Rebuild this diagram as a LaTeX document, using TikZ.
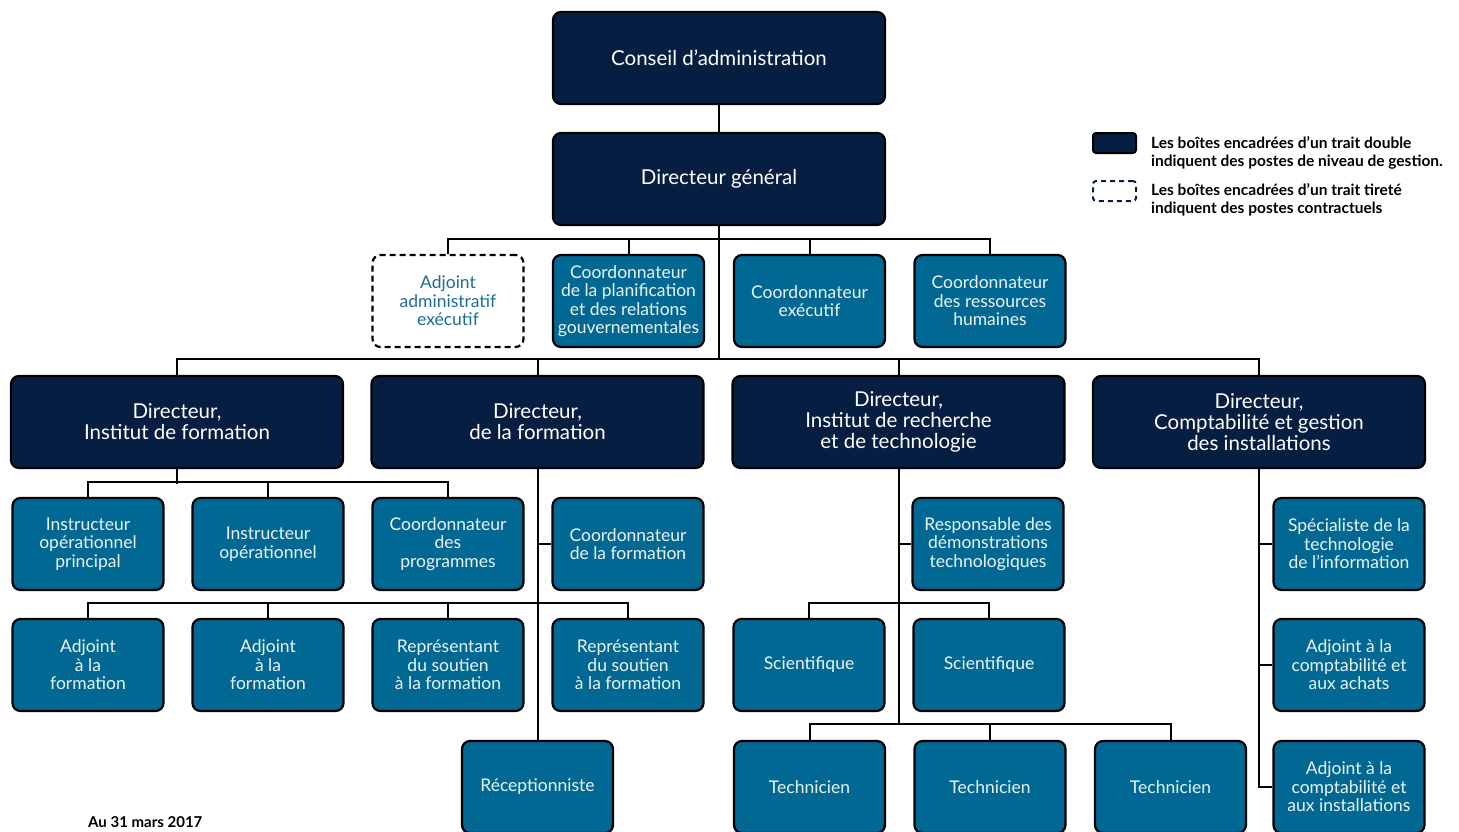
\documentclass[tikz,border=0pt]{standalone}
\usepackage{fontspec}
\setmainfont{Lato}
\definecolor{navy}{HTML}{061E42}
\definecolor{tealbox}{HTML}{006893}
\definecolor{tealtxt}{HTML}{1C6E98}
\begin{document}
\begin{tikzpicture}[x=1pt,y=-1pt,
  box/.style={draw=black, line width=2.2pt, rounded corners=8pt, align=center, inner sep=0pt},
  mgr/.style={box, fill=navy, text=white, minimum width=332pt, minimum height=92pt, font=\fontsize{20.5}{21}\selectfont},
  posbox/.style={box, fill=tealbox, text=white!92!tealbox, minimum width=151pt, minimum height=92pt, font=\fontsize{17.5}{18.5}\selectfont},
  contract/.style={box, fill=white, text=tealtxt, dashed, dash pattern=on 6pt off 4pt, minimum width=151pt, minimum height=92pt, font=\fontsize{17.5}{18.5}\selectfont},
  conn/.style={draw=black, line width=2pt},
  legtxt/.style={anchor=west, align=left, font=\bfseries\fontsize{15.5}{18.5}\selectfont, inner sep=0pt}
]
\useasboundingbox (0,0) rectangle (1459,831);
\fill[white] (0,0) rectangle (1459,831);

% top
\node[mgr] (conseil) at (719,58) {Conseil d’administration};
\node[mgr] (dg) at (719,179) {Directeur général};

% row 2
\node[contract] (adj) at (448,301) {Adjoint\\administratif\\exécutif};
\node[posbox] (cpl) at (628.5,301) {Coordonnateur\\de la planification\\et des relations\\gouvernementales};
\node[posbox] (cex) at (809.5,301) {Coordonnateur\\exécutif};
\node[posbox] (crh) at (990,301) {Coordonnateur\\des ressources\\humaines};

% directors
\node[mgr] (d1) at (177,422) {Directeur,\\Institut de formation};
\node[mgr] (d2) at (537.5,422) {Directeur,\\de la formation};
\node[mgr] (d3) at (898.5,422) {Directeur,\\Institut de recherche\\et de technologie};
\node[mgr] (d4) at (1259,422) {Directeur,\\Comptabilité et gestion\\des installations};

% director 1 children
\node[posbox] (i1) at (88,544) {Instructeur\\opérationnel\\principal};
\node[posbox] (i2) at (268,544) {Instructeur\\opérationnel};
\node[posbox] (cp) at (448,544) {Coordonnateur\\des\\programmes};

% director 2 children
\node[posbox] (cf) at (628,544) {Coordonnateur\\de la formation};
\node[posbox] (a1) at (88,665) {Adjoint\\à la\\formation};
\node[posbox] (a2) at (268,665) {Adjoint\\à la\\formation};
\node[posbox] (r1) at (448,665) {Représentant\\du soutien\\à la formation};
\node[posbox] (r2) at (628,665) {Représentant\\du soutien\\à la formation};
\node[posbox] (rec) at (537.5,787) {Réceptionniste};

% director 3 children
\node[posbox] (resp) at (988,544) {Responsable des\\démonstrations\\technologiques};
\node[posbox] (s1) at (809,665) {Scientifique};
\node[posbox] (s2) at (989,665) {Scientifique};
\node[posbox] (t1) at (809.5,787) {Technicien};
\node[posbox] (t2) at (990,787) {Technicien};
\node[posbox] (t3) at (1170.5,787) {Technicien};

% director 4 children
\node[posbox] (sp1) at (1349,544) {Spécialiste de la\\technologie\\de l’information};
\node[posbox] (sp2) at (1349,665) {Adjoint à la\\comptabilité et\\aux achats};
\node[posbox] (sp3) at (1349,787) {Adjoint à la\\comptabilité et\\aux installations};

% helper coordinates
\coordinate (h360) at (0,360);
\coordinate (h725) at (0,725);

% connectors
\draw[conn] (conseil) -- (dg);
\draw[conn] (dg.south) -- (dg.south |- h360);
\draw[conn] (adj.north) -- ++(0,-15) -| (crh.north);
\draw[conn] (cpl.north) -- ++(0,-15);
\draw[conn] (cex.north) -- ++(0,-15);
\draw[conn] (d1.north) -- ++(0,-16) -| (d4.north);
\draw[conn] (d2.north) -- ++(0,-16);
\draw[conn] (d3.north) -- ++(0,-16);

\draw[conn] (d1.south) -- ++(0,15);
\draw[conn] (i1.north) -- ++(0,-15) -| (cp.north);
\draw[conn] (i2.north) -- ++(0,-15);

\draw[conn] (d2.south) -- (rec.north);
\draw[conn] (cf.west) -- (cf.west -| d2.south);
\draw[conn] (a1.north) -- ++(0,-15) -| (r2.north);
\draw[conn] (a2.north) -- ++(0,-15);
\draw[conn] (r1.north) -- ++(0,-15);

\draw[conn] (d3.south) -- (d3.south |- h725);
\draw[conn] (resp.west) -- (resp.west -| d3.south);
\draw[conn] (s1.north) -- ++(0,-15) -| (s2.north);
\draw[conn] (t1.north) -- ++(0,-16) -| (t3.north);
\draw[conn] (t2.north) -- ++(0,-16);

\draw[conn] (d4.south) |- (sp3.west);
\draw[conn] (sp1.west) -- (sp1.west -| d4.south);
\draw[conn] (sp2.west) -- (sp2.west -| d4.south);

% legend
\node[draw=black, line width=2pt, fill=navy, rounded corners=3pt, minimum width=43pt, minimum height=20pt, inner sep=0pt] (legm) at (1114.5,143) {};
\node[draw=navy, line width=2pt, dashed, dash pattern=on 5pt off 4pt, rounded corners=3pt, minimum width=43pt, minimum height=20pt, inner sep=0pt] (legc) at (1114.5,191) {};
\node[legtxt] (lt1) at (1151,153) {Les boîtes encadrées d’un trait double\\indiquent des postes de niveau de gestion.};
\node[legtxt] (lt2) at (1151,200) {Les boîtes encadrées d’un trait tireté\\indiquent des postes contractuels};

% date
\node[anchor=west, inner sep=0pt, font=\bfseries\fontsize{15}{16}\selectfont] (date) at (88,822) {Au 31 mars 2017};
\end{tikzpicture}
\end{document}
